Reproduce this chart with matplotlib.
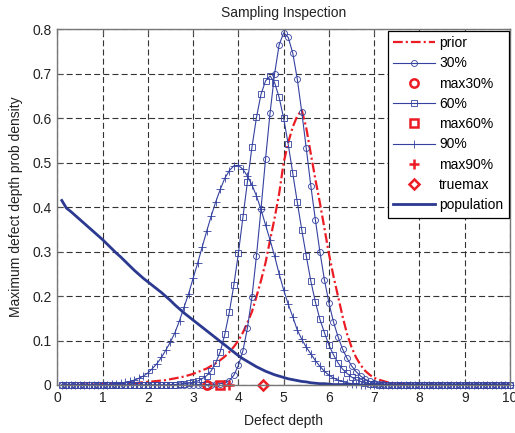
import numpy as np
import matplotlib
matplotlib.use("Agg")
import matplotlib.pyplot as plt

plt.rcParams['font.family'] = ['Liberation Sans', 'DejaVu Sans']
plt.rcParams['lines.scale_dashes'] = False

# sample grid: 0.1 .. 10.0 step 0.1
x = np.round(np.linspace(0.1, 10.0, 100), 1)

prior = [0, 0, 0, 0, 0.001, 0.001, 0.001, 0.001, 0.001, 0.002,
         0.002, 0.002, 0.002, 0.003, 0.003, 0.003, 0.004, 0.005, 0.006, 0.007,
         0.008, 0.009, 0.010, 0.011, 0.013, 0.015, 0.017, 0.019, 0.022, 0.025,
         0.029, 0.033, 0.037, 0.043, 0.049, 0.056, 0.064, 0.074, 0.086, 0.100,
         0.118, 0.140, 0.165, 0.199, 0.235, 0.275, 0.326, 0.375, 0.430, 0.500,
         0.545, 0.580, 0.605, 0.618, 0.578, 0.520, 0.463, 0.410, 0.353, 0.295,
         0.245, 0.200, 0.155, 0.115, 0.085, 0.062, 0.045, 0.032, 0.023, 0.016,
         0.012, 0.009, 0.006, 0.004, 0.003, 0.002, 0.001, 0.001, 0, 0,
         0, 0, 0, 0, 0, 0, 0, 0, 0, 0,
         0, 0, 0, 0, 0, 0, 0, 0, 0, 0]

p30 = [0, 0, 0, 0, 0, 0, 0, 0, 0, 0,
       0, 0, 0, 0, 0, 0, 0, 0, 0, 0,
       0, 0, 0, 0, 0, 0, 0, 0, 0, 0,
       0, 0, 0.001, 0.001, 0.002, 0.003, 0.005, 0.010, 0.022, 0.044,
       0.077, 0.128, 0.198, 0.291, 0.396, 0.508, 0.612, 0.700, 0.765, 0.792,
       0.782, 0.747, 0.689, 0.614, 0.532, 0.448, 0.372, 0.300, 0.237, 0.185,
       0.142, 0.109, 0.081, 0.060, 0.043, 0.030, 0.020, 0.013, 0.008, 0.005,
       0.003, 0.002, 0.001, 0.001, 0, 0, 0, 0, 0, 0,
       0, 0, 0, 0, 0, 0, 0, 0, 0, 0,
       0, 0, 0, 0, 0, 0, 0, 0, 0, 0]

p60 = [0, 0, 0, 0, 0, 0, 0, 0, 0, 0,
       0, 0, 0, 0, 0, 0, 0, 0, 0, 0,
       0, 0, 0, 0, 0.001, 0.001, 0.002, 0.003, 0.004, 0.006,
       0.009, 0.014, 0.021, 0.032, 0.050, 0.075, 0.114, 0.164, 0.225, 0.296,
       0.377, 0.457, 0.535, 0.602, 0.654, 0.684, 0.695, 0.680, 0.647, 0.600,
       0.542, 0.477, 0.412, 0.349, 0.290, 0.234, 0.187, 0.148, 0.118, 0.090,
       0.068, 0.050, 0.036, 0.026, 0.018, 0.012, 0.008, 0.005, 0.003, 0.002,
       0.001, 0, 0, 0, 0, 0, 0, 0, 0, 0,
       0, 0, 0, 0, 0, 0, 0, 0, 0, 0,
       0, 0, 0, 0, 0, 0, 0, 0, 0, 0]

p90 = [0, 0, 0, 0, 0, 0, 0, 0, 0.001, 0.001,
       0.001, 0.002, 0.003, 0.004, 0.006, 0.008, 0.011, 0.015, 0.020, 0.027,
       0.037, 0.048, 0.062, 0.079, 0.097, 0.118, 0.145, 0.175, 0.205, 0.240,
       0.274, 0.310, 0.346, 0.380, 0.412, 0.440, 0.465, 0.482, 0.493, 0.494,
       0.485, 0.470, 0.450, 0.425, 0.395, 0.360, 0.326, 0.290, 0.250, 0.214,
       0.182, 0.154, 0.124, 0.103, 0.085, 0.070, 0.055, 0.042, 0.031, 0.022,
       0.016, 0.011, 0.008, 0.005, 0.003, 0.002, 0.001, 0.001, 0, 0,
       0, 0, 0, 0, 0, 0, 0, 0, 0, 0,
       0, 0, 0, 0, 0, 0, 0, 0, 0, 0,
       0, 0, 0, 0, 0, 0, 0, 0, 0, 0]

population = [0.415, 0.398, 0.390, 0.381, 0.372, 0.363, 0.354, 0.345, 0.336, 0.327,
              0.317, 0.307, 0.297, 0.288, 0.278, 0.268, 0.258, 0.249, 0.240, 0.232,
              0.224, 0.216, 0.208, 0.199, 0.190, 0.180, 0.171, 0.162, 0.154, 0.146,
              0.138, 0.130, 0.122, 0.114, 0.106, 0.098, 0.090, 0.082, 0.074, 0.066,
              0.059, 0.053, 0.047, 0.041, 0.036, 0.031, 0.027, 0.023, 0.020, 0.017,
              0.014, 0.012, 0.010, 0.008, 0.007, 0.005, 0.004, 0.003, 0.003, 0.002,
              0.001, 0.001, 0.001, 0.001, 0, 0, 0, 0, 0, 0,
              0, 0, 0, 0, 0, 0, 0, 0, 0, 0,
              0, 0, 0, 0, 0, 0, 0, 0, 0, 0,
              0, 0, 0, 0, 0, 0, 0, 0, 0, 0]

max30 = 3.3
max60 = 3.6
max90 = 3.8
truemax = 4.55

xticks = [0, 1, 2, 3, 4, 5, 6, 7, 8, 9, 10]
xticklabels = ['0', '1', '2', '3', '4', '5', '6', '7', '8', '9', '10']
yticks = [0, 0.1, 0.2, 0.3, 0.4, 0.5, 0.6, 0.7, 0.8]
yticklabels = ['0', '0.1', '0.2', '0.3', '0.4', '0.5', '0.6', '0.7', '0.8']

RED = '#EC1C24'
BLUE = '#3441A0'
DBLUE = '#2B3990'

fig = plt.figure(figsize=(5.15, 4.33), dpi=100)
ax = fig.add_axes([57.3 / 515, 1 - 385 / 433, (510 - 57.3) / 515, (385 - 29.3) / 433])

ax.plot(x, prior, color=RED, lw=1.6, dashes=(7, 2.2, 1.5, 2.2), label='prior')
ax.plot(x, p30, color=BLUE, lw=0.8, marker='o', ms=4.3, mfc='none', mew=0.6, label='30%', clip_on=False)
ax.plot([max30], [0], ls='none', color=RED, marker='o', ms=6, mfc='none', mew=1.8, label='max30%', clip_on=False)
ax.plot(x, p60, color=BLUE, lw=0.8, marker='s', ms=4.3, mfc='none', mew=0.6, label='60%', clip_on=False)
ax.plot([max60], [0], ls='none', color=RED, marker='s', ms=6, mfc='none', mew=1.8, label='max60%', clip_on=False)
ax.plot(x, p90, color=BLUE, lw=0.8, marker='+', ms=5.5, mew=0.6, label='90%', clip_on=False)
ax.plot([max90], [0], ls='none', color=RED, marker='+', ms=7, mew=1.8, label='max90%', clip_on=False)
ax.plot([truemax], [0], ls='none', color=RED, marker='D', ms=5.5, mfc='none', mew=1.8, label='truemax', clip_on=False)
ax.plot(x, population, color=DBLUE, lw=2.0, label='population')

ax.set_xlim(0, 10)
ax.set_ylim(0, 0.8)
ax.set_xticks(xticks)
ax.set_xticklabels(xticklabels)
ax.set_yticks(yticks)
ax.set_yticklabels(yticklabels)
ax.tick_params(direction='in', length=4, width=0.8, color='#555555', labelsize=10,
               labelcolor='#222222', top=True, right=True, pad=4)
for s in ax.spines.values():
    s.set_color('#777777')
    s.set_linewidth(1.0)
ax.grid(True, color='#333333', lw=0.8, dashes=(4.3, 2.3))
ax.set_axisbelow(True)

ax.set_title('Sampling Inspection', fontsize=10, pad=9, color='#222222')
ax.set_xlabel('Defect depth', fontsize=10, color='#222222', labelpad=7)
ax.set_ylabel('Maximum defect depth prob density', fontsize=10, color='#222222', labelpad=7)

leg = ax.legend(loc='upper right', bbox_to_anchor=(1, 1), borderaxespad=0.1,
                fontsize=10, handlelength=3.0, handletextpad=0.3, labelspacing=0.45,
                fancybox=False, framealpha=1, edgecolor='black', borderpad=0.4)
leg.get_frame().set_linewidth(0.9)
leg.set_zorder(5)

fig.savefig('out.png', dpi=100)
